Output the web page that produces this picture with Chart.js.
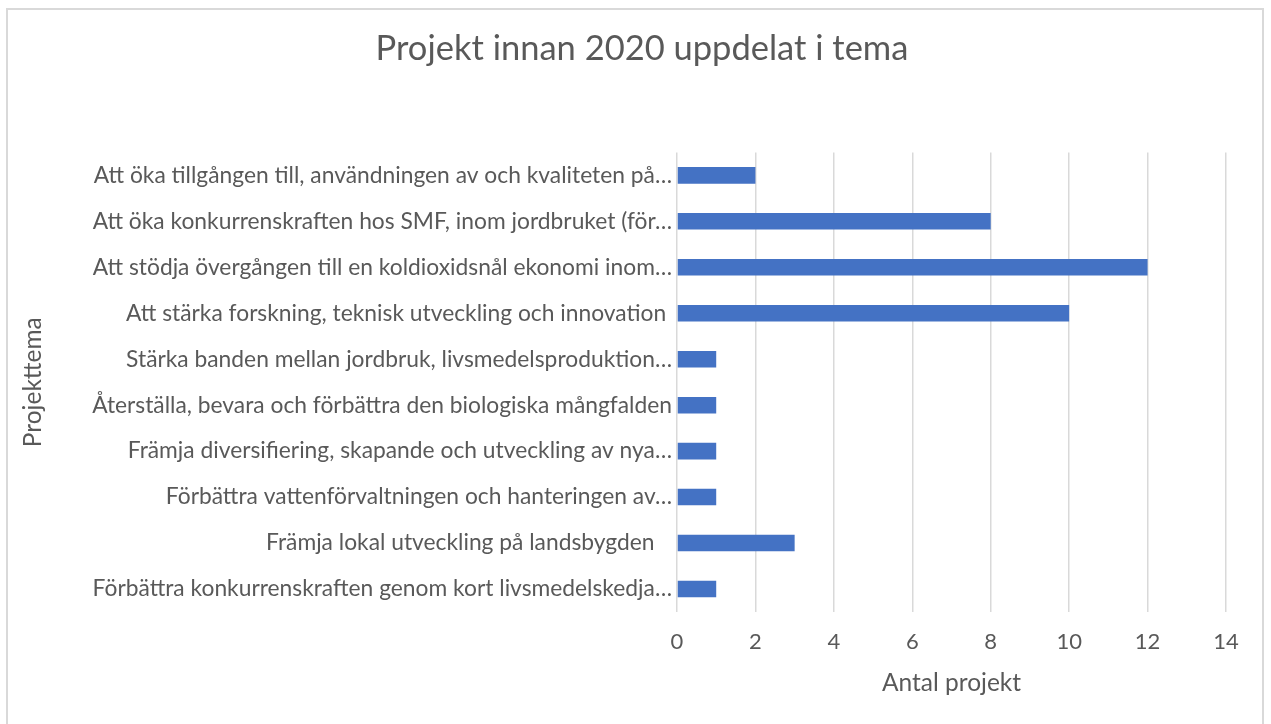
<!DOCTYPE html>
<html>
<head>
<meta charset="utf-8">
<script src="https://cdn.jsdelivr.net/npm/chart.js@4"></script>
<style>
  html, body { margin: 0; padding: 0; background: #fff; overflow: hidden; }
  #wrap { position: relative; width: 1271px; height: 724px; }
  #frame { position: absolute; left: 6px; top: 8px; width: 1258px; height: 730px; border: 2px solid #d9d9d9; box-sizing: border-box; pointer-events: none; }
  canvas { position: absolute; left: 0; top: 0; }
</style>
</head>
<body>
<div id="wrap">
  <canvas id="chart" width="1271" height="724"></canvas>
  <div id="frame"></div>
</div>
<script>
// Project themes (labels already truncated like in the original)
const themes = [
  'Att öka tillgången till, användningen av och kvaliteten på…',
  'Att öka konkurrenskraften hos SMF, inom jordbruket (för…',
  'Att stödja övergången till en koldioxidsnål ekonomi inom…',
  'Att stärka forskning, teknisk utveckling och innovation ',
  'Stärka banden mellan jordbruk, livsmedelsproduktion…',
  'Återställa, bevara och förbättra den biologiska mångfalden',
  'Främja diversifiering, skapande och utveckling av nya…',
  'Förbättra vattenförvaltningen och hanteringen av…',
  'Främja lokal utveckling på landsbygden   ',
  'Förbättra konkurrenskraften genom kort livsmedelskedja…'
];
const projectCounts = [2, 8, 12, 10, 1, 1, 1, 1, 3, 1];

const xMax = 14;
const xStep = 2;

const grey = '#595959';
const font = 'Lato, "Open Sans", sans-serif';
const padLeft = 58;

new Chart(document.getElementById('chart'), {
  type: 'bar',
  data: {
    labels: themes,
    datasets: [{
      label: 'Antal projekt',
      data: projectCounts,
      backgroundColor: '#4472C4',
      borderWidth: 0,
      categoryPercentage: 1,
      barPercentage: 0.36
    }]
  },
  options: {
    indexAxis: 'y',
    responsive: false,
    animation: false,
    layout: { padding: { left: padLeft, right: 45, top: 0, bottom: 0 } },
    plugins: {
      legend: { display: false },
      tooltip: { enabled: false },
      title: {
        display: true,
        text: 'Projekt innan 2020 uppdelat i tema',
        color: grey,
        font: { family: font, size: 34.5, weight: 'normal', lineHeight: 1.2 },
        padding: { top: 28, bottom: 83 }
      }
    },
    scales: {
      x: {
        min: 0,
        max: xMax,
        ticks: {
          stepSize: xStep,
          color: grey,
          padding: 17,
          font: { family: font, size: 22 }
        },
        grid: { color: '#d9d9d9', lineWidth: 1.5, drawTicks: false },
        border: { display: false },
        title: {
          display: true,
          text: 'Antal projekt',
          color: grey,
          font: { family: font, size: 24.5, lineHeight: 1.2 },
          padding: { top: 0, bottom: 26 }
        },
        afterFit: (s) => { s.height = 724 - 612; }
      },
      y: {
        ticks: {
          autoSkip: false,
          color: grey,
          padding: 5,
          font: { family: font, size: 22.8 }
        },
        grid: { display: false, drawTicks: false },
        border: { display: false },
        title: {
          display: true,
          text: 'Projekttema',
          color: grey,
          font: { family: font, size: 24.5, lineHeight: 1.2 },
          padding: { top: 33 - padLeft - 14.7, bottom: 0 }
        },
        afterFit: (s) => { s.width = 677 - padLeft; }
      }
    }
  }
});
</script>
</body>
</html>
